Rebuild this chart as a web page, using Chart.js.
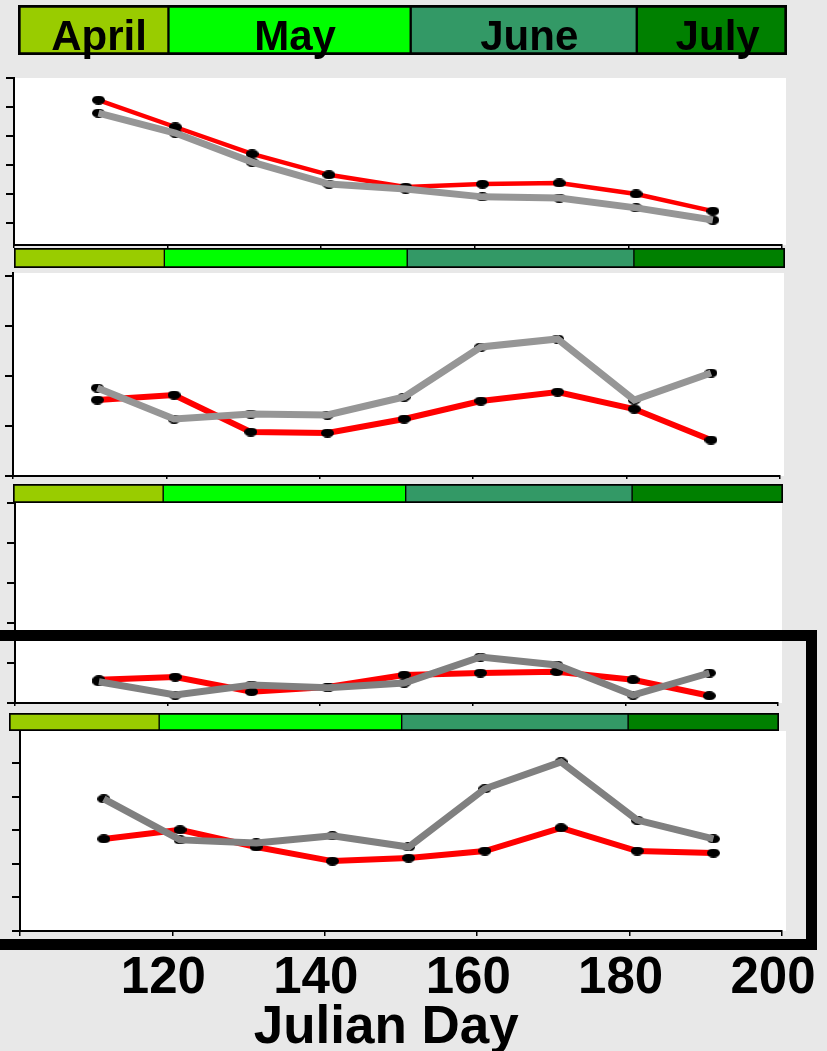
<!DOCTYPE html>
<html>
<head>
<meta charset="utf-8">
<script src="https://cdn.jsdelivr.net/npm/chart.js@4.4.0/dist/chart.umd.min.js"></script>
<style>
  html, body { margin: 0; padding: 0; background: #e8e8e8; width: 827px; height: 1051px; overflow: hidden; }
  canvas { position: absolute; }
  #frame { position: absolute; left: -20px; top: 630px; width: 837px; height: 320px; border: 11px solid #000; box-sizing: border-box; }
</style>
</head>
<body>
<canvas id="panel1"></canvas>
<canvas id="panel2"></canvas>
<canvas id="panel3"></canvas>
<canvas id="panel4"></canvas>
<canvas id="strip1"></canvas>
<canvas id="strip2"></canvas>
<canvas id="strip3"></canvas>
<canvas id="strip4"></canvas>
<div id="frame"></div>
<script>
// Sampling days (Julian day) and x axis ticks
const julianDays = [111, 121, 131, 141, 151, 161, 171, 181, 191];
const xTickValues = [100, 120, 140, 160, 180, 200];

// Month bands
const monthNames = ['April', 'May', 'June', 'July'];
const monthBounds = [100, 119.5, 151, 180.4, 200];
const monthColors = ['#99cc00', '#00ff00', '#339966', '#008000'];

// Panel values (no units printed on the axes, read in tick steps)
const panel1Red  = [4.24, 3.31, 2.38, 1.66, 1.24, 1.34, 1.38, 1.00, 0.41];
const panel1Gray = [3.79, 3.10, 2.10, 1.34, 1.17, 0.90, 0.86, 0.52, 0.10];
const panel1Ticks = [0, 1, 2, 3, 4, 5];

const panel2Red  = [1.52, 1.62, 0.88, 0.86, 1.14, 1.50, 1.68, 1.34, 0.72];
const panel2Gray = [1.76, 1.14, 1.24, 1.22, 1.58, 2.58, 2.74, 1.52, 2.06];
const panel2Ticks = [0, 1, 2, 3, 4];

const panel3Red  = [0.58, 0.65, 0.28, 0.40, 0.70, 0.75, 0.78, 0.58, 0.18];
const panel3Gray = [0.53, 0.20, 0.45, 0.38, 0.50, 1.15, 0.95, 0.20, 0.75];
const panel3Ticks = [0, 1, 2, 3, 4, 5];

const panel4Red  = [2.74, 3.01, 2.50, 2.08, 2.17, 2.38, 3.07, 2.38, 2.32];
const panel4Gray = [3.93, 2.71, 2.62, 2.83, 2.50, 4.23, 5.03, 3.30, 2.74];
const panel4Ticks = [0, 1, 2, 3, 4, 5];

Chart.defaults.font.family = "'Liberation Sans', Arial, sans-serif";
Chart.defaults.color = '#000';

// Black oval marker
const dot = document.createElement('canvas');
dot.width = 13;
dot.height = 9;
(function () {
    const c = dot.getContext('2d');
    c.fillStyle = '#000';
    c.beginPath();
    c.ellipse(6.5, 4.5, 6.5, 4.5, 0, 0, Math.PI * 2);
    c.fill();
})();

function placeCanvas(id, left, top, width, height) {
    const cv = document.getElementById(id);
    cv.width = width;
    cv.height = height;
    cv.style.left = left + 'px';
    cv.style.top = top + 'px';
    cv.style.width = width + 'px';
    cv.style.height = height + 'px';
    return cv;
}

// White plot background
const whiteArea = {
    id: 'whiteArea',
    beforeDraw(chart) {
        const a = chart.chartArea;
        chart.ctx.save();
        chart.ctx.fillStyle = '#fff';
        chart.ctx.fillRect(a.left, a.top, a.width + 4, a.height);
        chart.ctx.restore();
    }
};

// Month names inside the top band
const monthText = {
    id: 'monthText',
    afterDatasetsDraw(chart) {
        const ctx = chart.ctx;
        ctx.save();
        ctx.font = "bold 42px 'Liberation Sans', Arial, sans-serif";
        ctx.fillStyle = '#000';
        ctx.textAlign = 'center';
        ctx.textBaseline = 'alphabetic';
        chart.data.datasets.forEach((ds, i) => {
            const bar = chart.getDatasetMeta(i).data[0];
            ctx.fillText(ds.label, (bar.base + bar.x) / 2 + 6, chart.chartArea.bottom - 5);
        });
        ctx.restore();
    }
};

function makeStrip(id, box, border, withText) {
    const extra = withText ? 8 : 0;
    const cv = placeCanvas(id, box.left, box.top, box.right - box.left, box.bottom - box.top + extra);
    new Chart(cv, {
        type: 'bar',
        data: {
            labels: [''],
            datasets: monthNames.map((m, i) => ({
                label: m,
                data: [[monthBounds[i], monthBounds[i + 1]]],
                backgroundColor: monthColors[i],
                borderColor: '#000',
                borderWidth: {
                    top: border, bottom: border,
                    left: i === 0 ? border : Math.ceil(border / 2),
                    right: i === monthNames.length - 1 ? border : Math.floor(border / 2)
                },
                borderSkipped: false,
                grouped: false,
                barPercentage: 1,
                categoryPercentage: 1
            }))
        },
        options: {
            indexAxis: 'y',
            responsive: false,
            animation: false,
            devicePixelRatio: 1,
            layout: { padding: { bottom: extra }, autoPadding: false },
            plugins: { legend: { display: false }, tooltip: { enabled: false } },
            scales: {
                x: { type: 'linear', min: 100, max: 200, display: false },
                y: { display: false }
            }
        },
        plugins: withText ? [monthText] : []
    });
}

function makePanel(id, area, yMin, yMax, yTicks, red, gray, look) {
    const left = area.left - 8;
    const top = area.top - 2;
    const right = look.canvasRight || area.right + 4;
    const bottom = look.canvasBottom || area.bottom + look.xTickLen;
    const cv = placeCanvas(id, left, top, right - left, bottom - top);

    const toPoints = arr => julianDays.map((d, i) => ({ x: d, y: arr[i] }));

    const xAxis = {
        type: 'linear',
        min: 100,
        max: 200,
        afterBuildTicks: s => { s.ticks = xTickValues.map(v => ({ value: v })); },
        afterFit: s => { s.height = bottom - area.bottom; },
        grid: { drawOnChartArea: false, drawTicks: true, tickLength: look.xTickLen, color: '#000', lineWidth: 1.5 },
        border: { display: true, color: '#000', width: 2 },
        ticks: { display: false }
    };
    if (look.xLabels) {
        xAxis.ticks = {
            display: true,
            autoSkip: false,
            maxRotation: 0,
            labelOffset: -9,
            padding: 12,
            font: { size: 51, weight: 'bold' },
            callback: v => (v === 100 ? '' : v)
        };
        xAxis.title = {
            display: true,
            text: 'Julian Day  ',
            font: { size: 53, weight: 'bold' },
            padding: { top: 0, bottom: 0 }
        };
    }

    new Chart(cv, {
        type: 'line',
        data: {
            datasets: [
                {
                    label: 'gray',
                    data: toPoints(gray),
                    borderColor: look.gray,
                    borderWidth: 7,
                    pointRadius: 0,
                    tension: 0
                },
                {
                    label: 'gray markers',
                    data: toPoints(gray),
                    showLine: false,
                    pointStyle: dot,
                    pointRadius: 4
                },
                {
                    label: 'red',
                    data: toPoints(red),
                    borderColor: '#ff0000',
                    borderWidth: look.redWidth,
                    pointStyle: dot,
                    pointRadius: 4,
                    tension: 0
                }
            ]
        },
        options: {
            responsive: false,
            animation: false,
            devicePixelRatio: 1,
            layout: { padding: { top: 2, right: right - area.right, left: 0, bottom: 0 }, autoPadding: false },
            plugins: { legend: { display: false }, tooltip: { enabled: false } },
            scales: {
                x: xAxis,
                y: {
                    type: 'linear',
                    min: yMin,
                    max: yMax,
                    afterBuildTicks: s => { s.ticks = yTicks.map(v => ({ value: v })); },
                    afterFit: s => { s.width = 8; },
                    grid: { drawOnChartArea: false, drawTicks: true, tickLength: 8, color: '#000', lineWidth: 2 },
                    border: { display: true, color: '#000', width: 2 },
                    ticks: { display: false }
                }
            }
        },
        plugins: [whiteArea]
    });
}

makePanel('panel1', { left: 14, top: 78, right: 782, bottom: 245 }, -0.76, 5, panel1Ticks, panel1Red, panel1Gray,
    { gray: '#969696', redWidth: 4.5, xTickLen: 3 });
makePanel('panel2', { left: 13, top: 273, right: 780, bottom: 476 }, 0, 4.06, panel2Ticks, panel2Red, panel2Gray,
    { gray: '#969696', redWidth: 6, xTickLen: 3 });
makePanel('panel3', { left: 15, top: 503, right: 778, bottom: 703 }, 0, 5, panel3Ticks, panel3Red, panel3Gray,
    { gray: '#808080', redWidth: 6, xTickLen: 3 });
makePanel('panel4', { left: 16, top: 731, right: 782, bottom: 931 }, 0, 5.95, panel4Ticks, panel4Red, panel4Gray,
    { gray: '#808080', redWidth: 6, xTickLen: 5, xLabels: true, canvasRight: 880, canvasBottom: 1060 });

makeStrip('strip1', { left: 18, top: 5, right: 787, bottom: 55 }, 3, true);
makeStrip('strip2', { left: 14, top: 248, right: 785, bottom: 268 }, 2, false);
makeStrip('strip3', { left: 13, top: 484, right: 783, bottom: 503 }, 2, false);
makeStrip('strip4', { left: 9, top: 713, right: 779, bottom: 731 }, 2, false);
</script>
</body>
</html>
